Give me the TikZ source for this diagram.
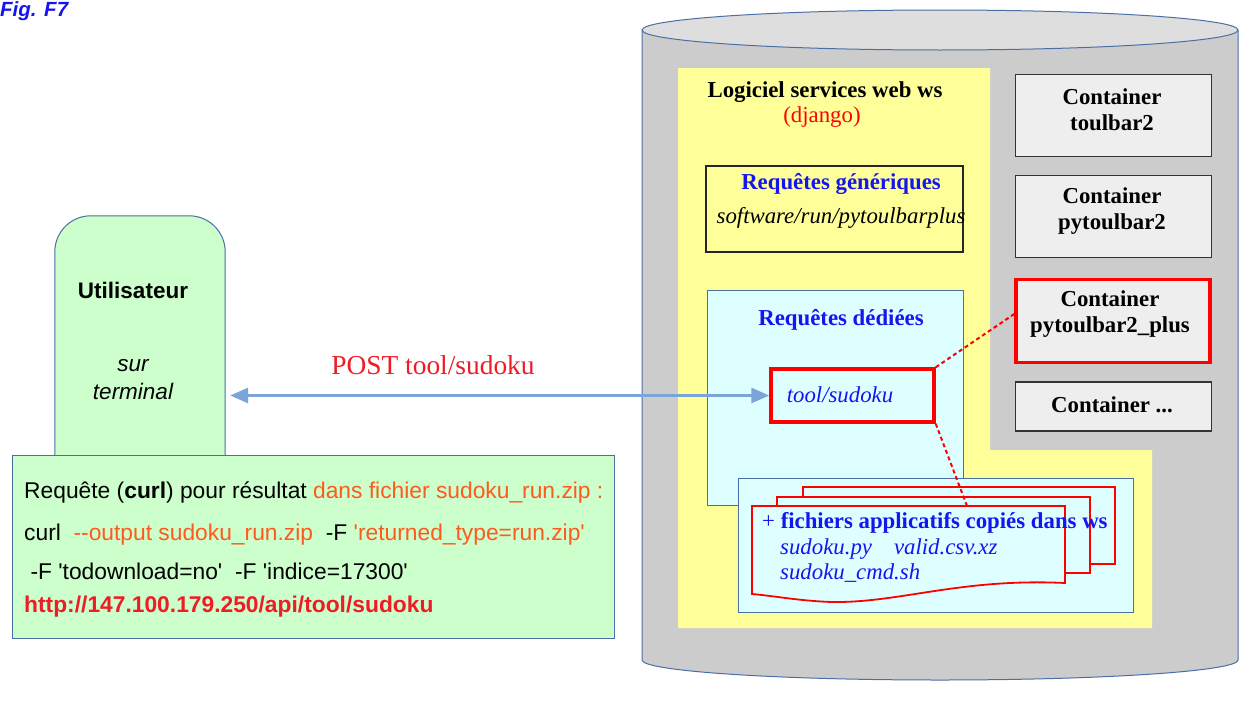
\documentclass[tikz,border=0pt]{standalone}
\usepackage{fontspec}
\setmainfont{Liberation Serif}
\setsansfont{Liberation Sans}
\usetikzlibrary{arrows.meta}
\definecolor{cylgray}{HTML}{CCCCCC}
\definecolor{cyltop}{HTML}{DEDEDE}
\definecolor{edgeblue}{HTML}{4A6FA5}
\definecolor{ylw}{HTML}{FFFF99}
\definecolor{cyanbg}{HTML}{DDFFFF}
\definecolor{grn}{HTML}{CCFFCC}
\definecolor{contbg}{HTML}{EEEEEE}
\definecolor{txtblue}{HTML}{1515F0}
\definecolor{orng}{HTML}{FF5A1E}
\definecolor{arrblue}{HTML}{7BA4D8}
\definecolor{redtxt}{HTML}{EE1C25}
\newcommand{\qq}{\textquotesingle}
\begin{document}
\begin{tikzpicture}[x=1pt,y=-1pt,
  serif/.style={font=\fontsize{22.8}{27}\selectfont, inner sep=0pt},
  serifb/.style={font=\fontsize{22.8}{27}\selectfont\bfseries, inner sep=0pt},
  serifi/.style={font=\fontsize{22.8}{27}\selectfont\itshape, inner sep=0pt},
  sans/.style={font=\sffamily\fontsize{22.8}{27}\selectfont, inner sep=0pt, anchor=west},
  contbox/.style={draw=black!80, fill=contbg, line width=1.2pt, minimum width=196pt, inner sep=0pt},
  conttext/.style={font=\fontsize{22.8}{26}\selectfont\bfseries, inner sep=0pt, align=center},
  bluebox/.style={draw=edgeblue, fill=cyanbg, line width=1pt, inner sep=0pt},
  docshape/.style={draw=red, fill=cyanbg, line width=1.8pt},
  reddash/.style={draw=red, line width=2pt, dash pattern=on 4pt off 3pt},
  arr/.style={draw=arrblue, line width=3pt, {Triangle[length=18pt,width=15pt]}-{Triangle[length=18pt,width=15pt]}}
]
\useasboundingbox (0,0) rectangle (1239,704);
\fill[white] (0,0) rectangle (1239,704);

% Fig label
\node[font=\sffamily\fontsize{20.5}{24}\selectfont\bfseries\itshape, text=txtblue, anchor=west, inner sep=0pt] (fig) at (0,11) {Fig. F7};

% cylinder
\draw[edgeblue, fill=cylgray, line width=1pt] (642,30) -- (642,660) arc (180:0:298 and 20) -- (1238,30);
\draw[edgeblue, fill=cyltop, line width=1pt] (940,30) ellipse (298 and 20);

% yellow region
\fill[ylw] (678,68) -- (990,68) -- (990,450) -- (1152,450) -- (1152,628) -- (678,628) -- cycle;

\node[serifb] (logi) at (825,92) {Logiciel services web ws};
\node[serif, text=red] (django) at (822,117) {(django)};

% generic requests
\node[draw=black!85, line width=1.2pt, minimum width=257pt, minimum height=86pt, inner sep=0pt] (gen) at (834.5,209) {};
\node[serifb, text=txtblue] (genT) at (841,184) {Requêtes génériques};
\node[serifi] (genS) at (841,218) {software/run/pytoulbarplus};

% dedicated requests
\node[bluebox, minimum width=256pt, minimum height=215pt] (ded) at (835,397.5) {};
\node[serifb, text=txtblue] (dedT) at (841,320) {Requêtes dédiées};

% files box
\node[bluebox, minimum width=395pt, minimum height=134pt] (files) at (935.5,545) {};
\draw[docshape] (803,487) rectangle (1115,564);
\draw[docshape] (777,497) rectangle (1090,573);
\draw[docshape] (752,506) -- (1065,506) -- (1065,583)
  .. controls (960,578) and (900,603) .. (832,602)
  .. controls (800,601) and (775,596) .. (752,594) -- cycle;
\coordinate (fdoc) at (967,506);
\node[serifb, text=txtblue, anchor=west] (fT) at (762,523) {{\mdseries +} fichiers applicatifs copiés dans ws};
\node[serifi, text=txtblue, anchor=west] (f1) at (780,549) {sudoku.py\hspace{22pt}valid.csv.xz};
\node[serifi, text=txtblue, anchor=west] (f2) at (780,573) {sudoku\_cmd.sh};

% tool/sudoku
\node[draw=red, line width=3.5pt, minimum width=163pt, minimum height=53pt, inner sep=0pt] (tool) at (852.5,395.5) {};
\node[serifi, text=txtblue] (toolT) at (840,395) {tool/sudoku};

% containers
\node[contbox, minimum height=82pt] (c1) at (1113.5,115.5) {};
\node[conttext] (c1t) at (1112,110) {Container\\toulbar2};
\node[contbox, minimum height=82pt] (c2) at (1113.5,216.5) {};
\node[conttext] (c2t) at (1112,211) {Container\\pytoulbar2};
\node[contbox, draw=red, line width=3.5pt, minimum height=83pt, minimum width=194pt] (c3) at (1113,321) {};
\node[conttext] (c3t) at (1110,314) {Container\\pytoulbar2\_plus};
\node[contbox, minimum height=49pt] (c4) at (1113.5,406.5) {};
\node[conttext] (c4t) at (1112,405) {Container ...};

% dashed links
\draw[reddash] (tool.north east) -- ([yshift=7pt]c3.west);
\draw[reddash] (tool.south east) -- (fdoc);

% user
\node[minimum width=170pt, minimum height=239pt, inner sep=0pt] (user) at (140,335.5) {};
\draw[edgeblue, fill=grn, line width=1pt, rounded corners=36pt] (user.south west) -- (user.north west) -- (user.north east) -- (user.south east);
\node[font=\sffamily\fontsize{22.5}{26}\selectfont\bfseries, inner sep=0pt] (userT) at (133,290) {Utilisateur};
\node[font=\sffamily\fontsize{22.5}{26}\selectfont\itshape, inner sep=0pt] (userS) at (133,366) {sur};
\node[font=\sffamily\fontsize{22.5}{26}\selectfont\itshape, inner sep=0pt] (userS2) at (133,391) {terminal};

% green request box
\node[draw=edgeblue, fill=grn, line width=1pt, minimum width=602pt, minimum height=183pt, inner sep=0pt] (req) at (313,546.5) {};
\node[sans] (r1) at (24,492) {Requête (\textbf{curl}) pour résultat \textcolor{orng}{dans fichier sudoku\_run.zip :}};
\node[sans] (r2) at (24,535) {curl\ \ \textcolor{orng}{-{}-output sudoku\_run.zip}\ \ -F \textcolor{orng}{\qq returned\_type=run.zip\qq}};
\node[sans] (r3) at (24,571) {\ -F \qq todownload=no\qq\ \ -F \qq indice=17300\qq};
\node[sans, font=\sffamily\fontsize{22.8}{27}\selectfont\bfseries, text=redtxt] (r4) at (24,607) {http://147.100.179.250/api/tool/sudoku};

% arrow
\draw[arr] ([xshift=5pt]user.east |- tool.west) -- (tool.west);
\node[font=\fontsize{27.4}{31}\selectfont, text=redtxt, inner sep=0pt] (post) at (433,365) {POST tool/sudoku};
\end{tikzpicture}
\end{document}
